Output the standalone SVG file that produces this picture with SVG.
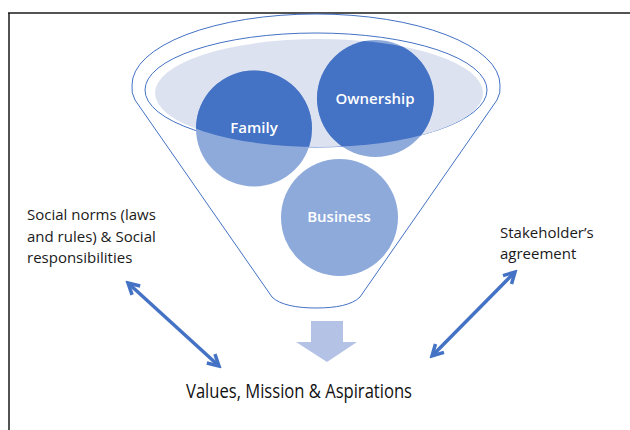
<svg xmlns="http://www.w3.org/2000/svg" width="630" height="430" viewBox="0 0 630 430">
  <style>
    .frame { stroke: #1a1a1a; stroke-width: 1.5; fill: none; }
    .outline { fill: none; stroke: #4472c4; stroke-width: 1; }
    .light { fill: #8eaadb; }
    .dark { fill: #4472c4; }
    .ctext { font-family: "Open Sans", "Liberation Sans", sans-serif; font-size: 15px; fill: #ffffff; text-anchor: middle; font-weight: 600; }
    .label { font-family: "Open Sans", "Liberation Sans", sans-serif; font-size: 15px; fill: #1a1a1a; }
    .big { font-family: "Open Sans", "Liberation Sans", sans-serif; font-size: 19.5px; fill: #111111; }
    .conn { stroke: #4472c4; stroke-width: 3.5; fill: none; }
  </style>
  <defs>
    <clipPath id="bowl">
      <ellipse cx="319" cy="93" rx="164" ry="54"/>
    </clipPath>
    <marker id="head" viewBox="0 0 16 16" markerWidth="16" markerHeight="16" refX="13" refY="8" markerUnits="userSpaceOnUse" orient="auto-start-reverse">
      <path d="M2,2 L13,8 L2,14" fill="none" stroke="#4472c4" stroke-width="3.5" stroke-linejoin="miter"/>
    </marker>
  </defs>

  <g id="frame">
    <line class="frame" x1="8" y1="13" x2="630" y2="13"/>
    <line class="frame" x1="9" y1="13" x2="9" y2="430"/>
  </g>

  <g id="funnel">
    <path class="outline" d="M272,297 L135,100 Q131,93 132,85 A184,71 0 0 1 500,85 Q501,93 497,100 L360,297 C352,305 336,308 316,308 C297,308 280,305 272,297 Z"/>
    <ellipse class="outline" cx="316" cy="90" rx="171" ry="57"/>
    <ellipse cx="319" cy="93" rx="164" ry="54" fill="#dde2f1"/>
  </g>

  <g id="node-family">
    <circle class="light" cx="254" cy="128.5" r="58"/>
    <circle class="dark" cx="254" cy="128.5" r="58" clip-path="url(#bowl)"/>
    <text class="ctext" x="254" y="133">Family</text>
  </g>

  <g id="node-ownership">
    <circle class="light" cx="375.5" cy="98.5" r="58.5"/>
    <circle class="dark" cx="375.5" cy="98.5" r="58.5" clip-path="url(#bowl)"/>
    <text class="ctext" x="375" y="104">Ownership</text>
  </g>

  <g id="node-business">
    <circle class="light" cx="339.5" cy="217.5" r="58.5"/>
    <text class="ctext" x="339" y="222" font-weight="700">Business</text>
  </g>

  <g id="node-social">
    <text class="label" x="27" y="220">Social norms (laws</text>
    <text class="label" x="27" y="242">and rules) &amp; Social</text>
    <text class="label" x="27" y="263">responsibilities</text>
  </g>

  <g id="node-stakeholder">
    <text class="label" x="500" y="238">Stakeholder’s</text>
    <text class="label" x="500" y="259">agreement</text>
  </g>

  <g id="node-values">
    <polygon points="311,321 343,321 343,342 357,342 327,362 296,342 311,342" fill="#b4c3e5"/>
    <text class="big" x="186" y="398" textLength="226" lengthAdjust="spacingAndGlyphs">Values, Mission &amp; Aspirations</text>
  </g>

  <g id="connectors">
    <line class="conn" x1="128" y1="283" x2="219" y2="366" marker-start="url(#head)" marker-end="url(#head)"/>
    <line class="conn" x1="515" y1="272" x2="432" y2="356" marker-start="url(#head)" marker-end="url(#head)"/>
  </g>
</svg>
